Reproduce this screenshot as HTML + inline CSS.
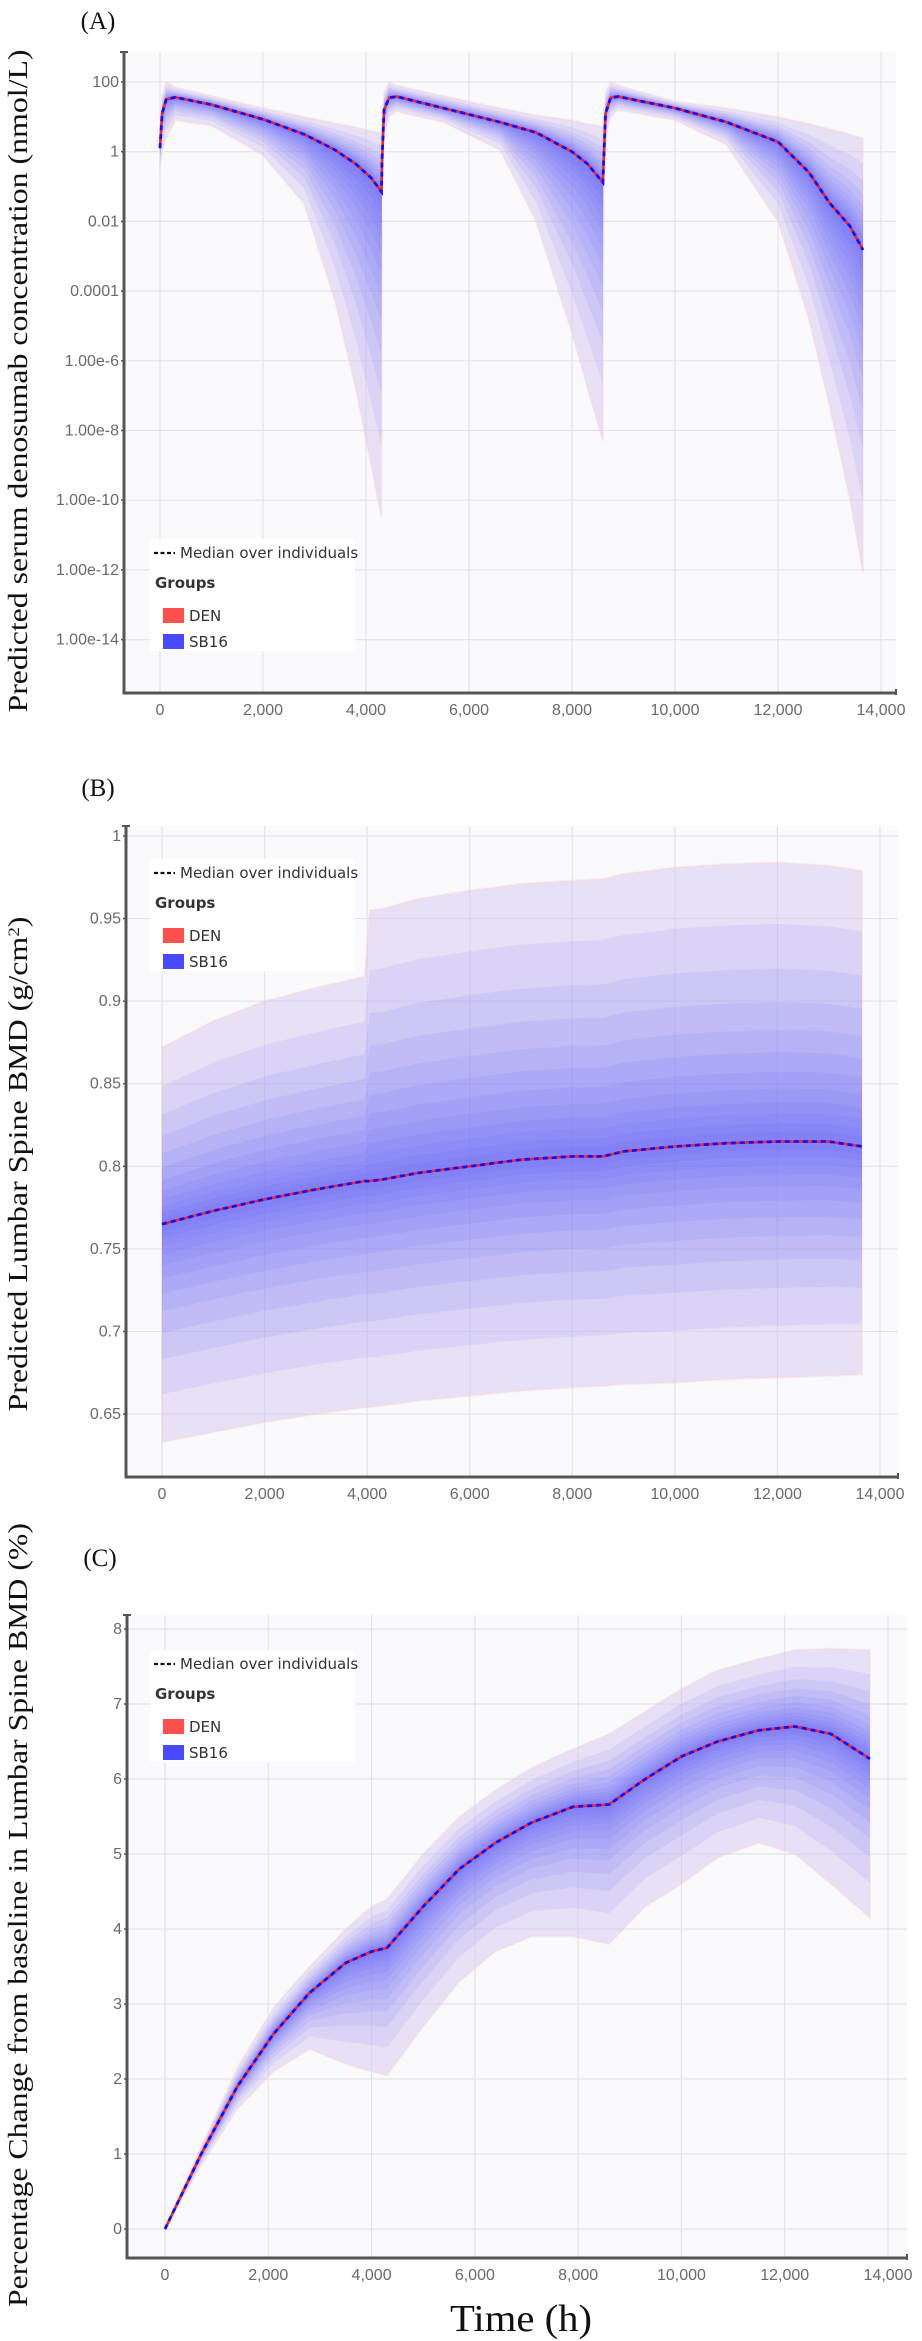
<!DOCTYPE html>
<html><head><meta charset="utf-8"><style>
html,body{margin:0;padding:0;background:#fff;}
svg{display:block;}
.tick{font-family:"Liberation Sans",sans-serif;font-size:16px;fill:#6a6a6a;}
.ttl{font-family:"Liberation Serif",serif;fill:#111;}
.leg{font-family:"DejaVu Sans","Liberation Sans",sans-serif;font-size:15px;fill:#333;}
</style></head><body>
<svg id="fig" width="922" height="2341" viewBox="0 0 922 2341" xmlns="http://www.w3.org/2000/svg">
<text class="ttl" x="98" y="29" font-size="25" text-anchor="middle">(A)</text>
<text class="ttl" x="98" y="796" font-size="25" text-anchor="middle">(B)</text>
<text class="ttl" x="100" y="1566" font-size="25" text-anchor="middle">(C)</text>
<text class="ttl" transform="translate(27,381) rotate(-90)" font-size="27" text-anchor="middle" textLength="663" lengthAdjust="spacingAndGlyphs">Predicted serum denosumab concentration (nmol/L)</text>
<text class="ttl" transform="translate(27,1164) rotate(-90)" font-size="27" text-anchor="middle" textLength="495" lengthAdjust="spacingAndGlyphs">Predicted Lumbar Spine BMD (g/cm<tspan baseline-shift="super" font-size="16">2</tspan>)</text>
<text class="ttl" transform="translate(27,1915) rotate(-90)" font-size="27" text-anchor="middle" textLength="784" lengthAdjust="spacingAndGlyphs">Percentage Change from baseline in Lumbar Spine BMD (%)</text>
<text class="ttl" x="521" y="2331" font-size="38" text-anchor="middle" textLength="142" lengthAdjust="spacingAndGlyphs">Time (h)</text>
</svg>
<script>
// ---- Panel A data (log10 nmol/L) ----
const timeA = [0,40,120,300,1000,2000,2800,3400,3800,4100,4300, 4310,4350,4450,4600,5500,6600,7300,8000,8300,8600, 8610,8650,8750,8900,10000,11000,12000,12600,13000,13400,13650];
const medianA = [0.1,1.1,1.5,1.56,1.35,0.93,0.5,0.05,-0.35,-0.75,-1.15, -0.3,1.2,1.55,1.58,1.25,0.85,0.55,0.0,-0.35,-0.88, -0.5,1.1,1.55,1.58,1.25,0.85,0.28,-0.59,-1.47,-2.14,-2.82];
const upperA = [0.3,1.6,2.0,1.85,1.6,1.25,1.0,0.82,0.7,0.6,0.55, 0.6,1.7,2.0,1.9,1.6,1.25,1.05,0.9,0.8,0.72, 0.6,1.7,2.0,1.9,1.45,1.25,1.0,0.8,0.65,0.5,0.38];
const lowerA = [-0.5,0.0,0.4,0.9,0.75,-0.1,-1.5,-4.3,-6.8,-9.0,-10.5, -1.0,0.4,1.0,1.15,0.85,0.05,-2.0,-5.2,-6.8,-8.3, -1.0,0.4,1.0,1.2,0.9,0.2,-2.0,-4.8,-7.3,-10.0,-12.1];
const tickValsA = [-14,-12,-10,-8,-6,-4,-2,0,2];
const tickLabelsA = ["1.00e-14","1.00e-12","1.00e-10","1.00e-8","1.00e-6","0.0001","0.01","1","100"];
// ---- Panel B data (g/cm2) ----
const timeB = [0,1000,2000,3000,3950,4050,4300,5000,6000,7000,8000,8600,9000,10000,11000,12000,13000,13650];
const medianB = [0.765,0.773,0.780,0.786,0.791,0.791,0.792,0.796,0.800,0.804,0.806,0.806,0.809,0.812,0.814,0.815,0.815,0.812];
const upperB = [0.872,0.888,0.900,0.908,0.915,0.955,0.956,0.962,0.967,0.971,0.973,0.974,0.977,0.981,0.983,0.984,0.982,0.979];
const lowerB = [0.633,0.639,0.645,0.650,0.654,0.654,0.655,0.658,0.661,0.664,0.666,0.667,0.668,0.669,0.671,0.672,0.673,0.674];
const tickValsB = [0.65,0.7,0.75,0.8,0.85,0.9,0.95,1];
const tickLabelsB = ["0.65","0.7","0.75","0.8","0.85","0.9","0.95","1"];
// ---- Panel C data (%) ----
const timeC = [0,700,1400,2100,2800,3500,4000,4300,5000,5700,6400,7100,7900,8600,9300,10000,10700,11500,12200,12900,13650];
const medianC = [0,1.0,1.9,2.6,3.15,3.55,3.7,3.75,4.3,4.8,5.15,5.42,5.63,5.66,6.0,6.3,6.5,6.65,6.7,6.6,6.27];
const upperC = [0,1.1,2.15,2.95,3.5,4.0,4.3,4.4,5.0,5.5,5.85,6.15,6.4,6.6,6.9,7.2,7.45,7.6,7.72,7.74,7.72];
const lowerC = [0,0.85,1.6,2.1,2.4,2.2,2.1,2.05,2.7,3.3,3.7,3.9,3.9,3.8,4.3,4.6,4.95,5.15,5.0,4.6,4.15];
const tickValsC = [0,1,2,3,4,5,6,7,8];
const tickLabelsC = ["0","1","2","3","4","5","6","7","8"];
const xTicks = [0,2000,4000,6000,8000,10000,12000,14000];
const xTickLabels = ["0","2,000","4,000","6,000","8,000","10,000","12,000","14,000"];

const NS = "http://www.w3.org/2000/svg";
const svg = document.getElementById("fig");
function mk(tag, attrs, parent){const e=document.createElementNS(NS,tag);for(const k in attrs)e.setAttribute(k,attrs[k]);(parent||svg).appendChild(e);return e;}
const fracs=[1,0.78,0.62,0.5,0.4,0.32,0.25,0.19,0.14,0.1,0.065,0.035];

function panel(p){
  const g=mk("g",{});
  
  
  const X=v=>p.x0+(v/14000)*(p.x14-p.x0);
  const Y=v=>p.y0+(v-p.v0)*(p.y1-p.y0)/(p.v1-p.v0);
  const bg=mk("rect",{x:p.left,y:p.top,width:p.right-p.left,height:p.bottom-p.top,fill:"#fafafd"},g);
  
  
  p.tv.forEach((v,i)=>{
    const y=Y(v);
    const gl=mk("line",{x1:p.left,x2:p.right,y1:y,y2:y,stroke:"#e3e3e9","stroke-width":1.2},g);
    
    
    const t=mk("text",{x:p.left-5,y:y+5,"text-anchor":"end",class:"tick"},g);
    t.textContent=p.tl[i];
    
    
    mk("line",{x1:p.left-3,x2:p.left,y1:y,y2:y,stroke:"#555","stroke-width":1.5},g);
  });
  xTicks.forEach((v,i)=>{
    const x=X(v);
    const gl=mk("line",{x1:x,x2:x,y1:p.top,y2:p.bottom,stroke:"#e3e3e9","stroke-width":1.2},g);
    
    
    const t=mk("text",{x:x,y:p.bottom+22,"text-anchor":"middle",class:"tick"},g);
    t.textContent=xTickLabels[i];
    
    
  });
  fracs.forEach((f,k)=>{
    let up="",dn="";
    p.t.forEach((tt,i)=>{
      const hi=p.med[i]+(p.hi[i]-p.med[i])*f;
      up+=(i?"L":"M")+X(tt).toFixed(1)+","+Y(hi).toFixed(1);
    });
    for(let i=p.t.length-1;i>=0;i--){
      const lo=p.med[i]+(p.lo[i]-p.med[i])*f;
      dn+="L"+X(p.t[i]).toFixed(1)+","+Y(lo).toFixed(1);
    }
    const path=mk("path",{d:up+dn+"Z",fill:k==0?"rgba(214,200,238,0.5)":"rgba(80,80,255,"+p.alpha+")",stroke:k==0?"rgba(255,205,205,0.3)":"none","stroke-width":k==0?2:0},g);
    
    
  });
  let d="";
  p.t.forEach((tt,i)=>{d+=(i?"L":"M")+X(tt).toFixed(1)+","+Y(p.med[i]).toFixed(1);});
  const r=mk("path",{d:d,fill:"none",stroke:"#ff2020","stroke-width":2.6},g);
  
  
  const b=mk("path",{d:d,fill:"none",stroke:"#1010ff","stroke-width":2.8,"stroke-dasharray":"5 4"},g);
  
  
  const ax=mk("path",{d:"M"+p.left+","+p.top+"L"+p.left+","+p.bottom+"L"+p.right+","+p.bottom,fill:"none",stroke:"#555","stroke-width":3},g);
  
  
  mk("line",{x1:p.right,x2:p.right,y1:p.bottom-4,y2:p.bottom+2,stroke:"#555","stroke-width":2},g);
  mk("line",{x1:p.left-4,x2:p.left+4,y1:p.top,y2:p.top,stroke:"#555","stroke-width":2},g);
  const L=mk("g",{},g);
  
  
  const ly=p.legY;
  mk("rect",{x:150,y:ly-14,width:205,height:112,fill:"#fff"},L);
  mk("line",{x1:154,x2:175,y1:ly,y2:ly,stroke:"#111","stroke-width":2.2,"stroke-dasharray":"4 2.5"},L);
  const t1=mk("text",{x:180,y:ly+5,class:"leg"},L);t1.textContent="Median over individuals";
  
  
  const t2=mk("text",{x:155,y:ly+35,class:"leg","font-weight":"bold",fill:"#222"},L);t2.textContent="Groups";
  
  
  mk("rect",{x:163,y:ly+55,width:21,height:15,fill:"#ff5050"},L);
  const t3=mk("text",{x:189,y:ly+68,class:"leg"},L);t3.textContent="DEN";
  
  
  mk("rect",{x:163,y:ly+81,width:21,height:15,fill:"#4848ff"},L);
  const t4=mk("text",{x:189,y:ly+94,class:"leg"},L);t4.textContent="SB16";
  
  
}
panel({name:"panel-a",left:124,right:896,top:52,bottom:693,x0:160,x14:881,v0:0,y0:151.7,v1:2,y1:82,t:timeA,med:medianA,hi:upperA,lo:lowerA,tv:tickValsA,tl:tickLabelsA,legY:553,alpha:0.095});
panel({name:"panel-b",left:126,right:898,top:826,bottom:1477,x0:162,x14:880,v0:1,y0:836,v1:0.65,y1:1414,t:timeB,med:medianB,hi:upperB,lo:lowerB,tv:tickValsB,tl:tickLabelsB,legY:873,alpha:0.095});
panel({name:"panel-c",left:127,right:907,top:1615,bottom:2258,x0:165,x14:888,v0:0,y0:2229,v1:8,y1:1629,t:timeC,med:medianC,hi:upperC,lo:lowerC,tv:tickValsC,tl:tickLabelsC,legY:1664,alpha:0.095});
</script>
</body></html>
